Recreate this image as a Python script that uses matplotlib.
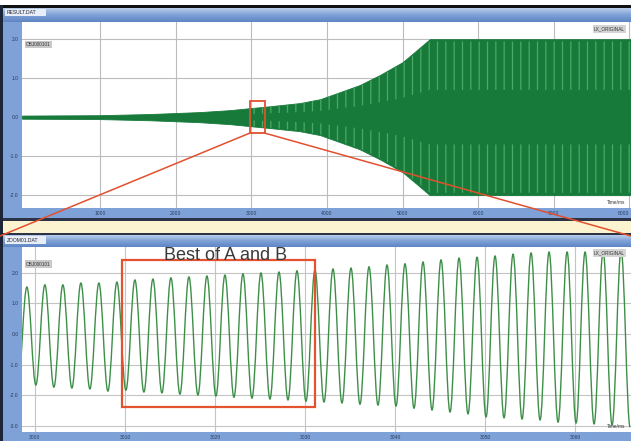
import numpy as np
import matplotlib
matplotlib.use("Agg")
import matplotlib.pyplot as plt
from matplotlib.patches import Rectangle, PathPatch, ConnectionPatch
from matplotlib.path import Path
from matplotlib.colors import LinearSegmentedColormap

plt.rcParams['font.family'] = ['Liberation Sans', 'DejaVu Sans']
plt.rcParams['hatch.linewidth'] = 0.9

# ---------------- data ----------------
# Top panel: envelope of the growing oscillation (time, half-amplitude)
env_time = [-0.03, 1.0, 1.66, 2.32, 2.72, 2.98, 3.25, 3.64, 3.91, 4.17, 4.43, 4.70, 5.0, 5.16, 5.36, 8.02]
env_amp = [0.04, 0.05, 0.08, 0.13, 0.18, 0.23, 0.28, 0.36, 0.46, 0.64, 0.82, 1.08, 1.41, 1.67, 2.0, 2.0]
top_xticks = [1, 2, 3, 4, 5, 6, 7, 8]
top_xlabels = ["1000", "2000", "3000", "4000", "5000", "6000", "7000", "8000"]
top_yticks = [2, 1, 0, -1, -2]
top_ylabels = ["2.0", "1.0", "0.0", "-1.0", "-2.0"]

# Bottom panel: zoomed waveform, peak and trough values per cycle
first_peak_time = -0.09
cycle_period = 0.2
peak_vals = [1.54, 1.61, 1.61, 1.67, 1.67, 1.70, 1.77, 1.80, 1.84, 1.87, 1.90, 1.93,
             1.97, 2.00, 2.03, 2.07, 2.10, 2.13, 2.16, 2.20, 2.26, 2.30, 2.36, 2.43,
             2.49, 2.52, 2.56, 2.62, 2.66, 2.69, 2.69, 2.69, 2.72, 2.75]
trough_vals = [-1.67, -1.67, -1.74, -1.77, -1.80, -1.87, -1.84, -1.90, -1.93, -1.97,
               -2.00, -2.03, -2.07, -2.10, -2.13, -2.16, -2.20, -2.23, -2.26, -2.30,
               -2.33, -2.36, -2.43, -2.49, -2.56, -2.62, -2.72, -2.75, -2.79, -2.82,
               -2.89, -2.92, -2.95, -2.98, -3.05]
bot_xticks = [0, 1, 2, 3, 4, 5, 6]
bot_xlabels = ["3000", "3010", "3020", "3030", "3040", "3050", "3060"]
bot_yticks = [2, 1, 0, -1, -2, -3]
bot_ylabels = ["2.0", "1.0", "0.0", "-1.0", "-2.0", "-3.0"]
annotation = "Best of A and B"

# ---------------- figure ----------------
W, H = 631, 441
fig = plt.figure(figsize=(W / 100, H / 100), dpi=100)
fig.patch.set_facecolor('white')

bg = fig.add_axes([0, 0, 1, 1], zorder=0)
bg.set_xlim(0, W)
bg.set_ylim(H, 0)
bg.axis('off')

blue = '#7ea2d8'
dark = '#1d2638'

def rect(x0, y0, x1, y1, color, z=1, **kw):
    bg.add_patch(Rectangle((x0, y0), x1 - x0, y1 - y0, facecolor=color, edgecolor='none', zorder=z, **kw))

def gradient_bar(x0, y0, x1, y1):
    g = np.linspace(0, 1, 32).reshape(-1, 1)
    cm = LinearSegmentedColormap.from_list('bar', ['#b8cdea', '#7da0d6', '#5f86c4'])
    bg.imshow(g, cmap=cm, extent=(x0, x1, y1, y0), aspect='auto', zorder=2)

rect(0, 5, W, 8, '#111111')
rect(3, 8, W, 218, blue)
gradient_bar(3, 8, W, 22)
rect(5, 9, 46, 16, '#e8eef8', z=3)
bg.text(7, 12.8, "RESULT.DAT", fontsize=3.6, color='#223', va='center', ha='left', zorder=4)
rect(3, 218, W, 221, '#2b3345')
rect(3, 221, W, 233, '#fcf4d0')
rect(3, 233, W, 235, '#2b3345')
rect(3, 235, W, H, blue)
gradient_bar(3, 235, W, 247)
rect(5, 236, 46, 244, '#e8eef8', z=3)
bg.text(7, 240.2, "ZOOM01.DAT", fontsize=3.6, color='#223', va='center', ha='left', zorder=4)
rect(0, 5, 3, H, dark, z=5)

# ---------------- top axes ----------------
ax1 = fig.add_axes([22 / W, (H - 208) / H, 609 / W, 186 / H], zorder=2)
ax1.set_facecolor('white')
ax1.set_xlim(-0.03, 8.02)
ax1.set_ylim(-2.33, 2.44)
green_dark = '#177a3b'
green_light = '#4aa964'
env_t = np.array(env_time)
env_a = np.array(env_amp)
ax1.fill_between(env_t, -env_a, env_a, facecolor=green_dark, edgecolor=green_dark, lw=0.6, zorder=3)
mask = env_t >= 2.9
ax1.fill_between(env_t[mask], 0.35 * env_a[mask], 0.97 * env_a[mask], facecolor='none',
                 edgecolor=green_light, hatch='||', lw=0, zorder=4)
ax1.fill_between(env_t[mask], -0.97 * env_a[mask], -0.35 * env_a[mask], facecolor='none',
                 edgecolor=green_light, hatch='||', lw=0, zorder=4)
ax1.set_xticks(top_xticks)
ax1.set_xticklabels(top_xlabels)
ax1.get_xticklabels()[-1].set_horizontalalignment('right')
ax1.set_yticks(top_yticks)
ax1.set_yticklabels(top_ylabels)
ax1.grid(True, color='#bcbcbc', lw=0.8, zorder=1)
ax1.set_axisbelow(True)
ax1.tick_params(length=0, labelsize=3.6, labelcolor='#2a3a5a', pad=2.5)
for s in ax1.spines.values():
    s.set_visible(False)
ax1.text(0.006, 0.87, "OBJ000101", transform=ax1.transAxes, fontsize=3.4, color='#333',
         bbox=dict(facecolor='#c9c9c9', edgecolor='none', pad=0.8), zorder=6)
ax1.text(0.99, 0.955, "LX_ORIGINAL", transform=ax1.transAxes, fontsize=3.4, color='#333', ha='right',
         bbox=dict(facecolor='#d4d4d4', edgecolor='none', pad=0.8), zorder=6)
ax1.text(0.99, 0.02, "Time/ms", transform=ax1.transAxes, fontsize=3.4, color='#333', ha='right', zorder=6)

# red box in top panel
ax1.add_patch(Rectangle((2.98, -0.41), 0.2, 0.82, facecolor='none', edgecolor='#e2502e', lw=1.3, zorder=7))

# ---------------- bottom axes ----------------
ax2 = fig.add_axes([22 / W, 9 / H, 609 / W, 185 / H], zorder=2)
ax2.set_facecolor('white')
ax2.set_xlim(-0.144, 6.62)
ax2.set_ylim(-3.21, 2.85)
peak_t = first_peak_time + cycle_period * np.arange(len(peak_vals))
trough_t = first_peak_time - cycle_period / 2 + cycle_period * np.arange(len(trough_vals))
ext_t = []
ext_v = []
for i in range(len(trough_vals)):
    ext_t.append(trough_t[i]); ext_v.append(trough_vals[i])
    if i < len(peak_vals):
        ext_t.append(peak_t[i]); ext_v.append(peak_vals[i])
verts = [(ext_t[0], ext_v[0])]
codes = [Path.MOVETO]
c = 0.3642
for i in range(1, len(ext_t)):
    x0, y0 = ext_t[i - 1], ext_v[i - 1]
    x1, y1 = ext_t[i], ext_v[i]
    dx = x1 - x0
    verts += [(x0 + c * dx, y0), (x1 - c * dx, y1), (x1, y1)]
    codes += [Path.CURVE4] * 3
ax2.add_patch(PathPatch(Path(verts, codes), facecolor='none', edgecolor='#3d8f48', lw=1.0, zorder=4))
ax2.set_xticks(bot_xticks)
ax2.set_xticklabels(bot_xlabels)
ax2.set_yticks(bot_yticks)
ax2.set_yticklabels(bot_ylabels)
ax2.grid(True, color='#c4c4c4', lw=0.8, zorder=1)
ax2.set_axisbelow(True)
ax2.tick_params(length=0, labelsize=3.6, labelcolor='#2a3a5a', pad=2.5)
for s in ax2.spines.values():
    s.set_visible(False)
ax2.text(0.006, 0.90, "OBJ000101", transform=ax2.transAxes, fontsize=3.4, color='#333',
         bbox=dict(facecolor='#c9c9c9', edgecolor='none', pad=0.8), zorder=6)
ax2.text(0.99, 0.96, "LX_ORIGINAL", transform=ax2.transAxes, fontsize=3.4, color='#333', ha='right',
         bbox=dict(facecolor='#d4d4d4', edgecolor='none', pad=0.8), zorder=6)
ax2.text(0.99, 0.02, "Time/ms", transform=ax2.transAxes, fontsize=3.4, color='#333', ha='right', zorder=6)

ax2.add_patch(Rectangle((0.967, -2.39), 3.11 - 0.967, 2.43 + 2.39, facecolor='none',
                        edgecolor='#e5522f', lw=1.6, zorder=7))
ax2.text(2.12, 2.42, annotation, fontsize=13, color='#3a3a3a', ha='center', va='baseline', zorder=8)

# ---------------- connecting lines ----------------
ov = fig.add_axes([0, 0, 1, 1], zorder=10)
ov.set_xlim(0, W)
ov.set_ylim(H, 0)
ov.axis('off')
ov.patch.set_alpha(0)
for xa, xb in [((2.98, -0.41), (0, 236)), ((3.18, -0.41), (W, 236))]:
    cp = ConnectionPatch(xyA=xa, coordsA=ax1.transData, xyB=xb, coordsB=ov.transData,
                         color='#e2502e', lw=1.1, zorder=11)
    ov.add_artist(cp)

fig.savefig('out.png', dpi=100)
